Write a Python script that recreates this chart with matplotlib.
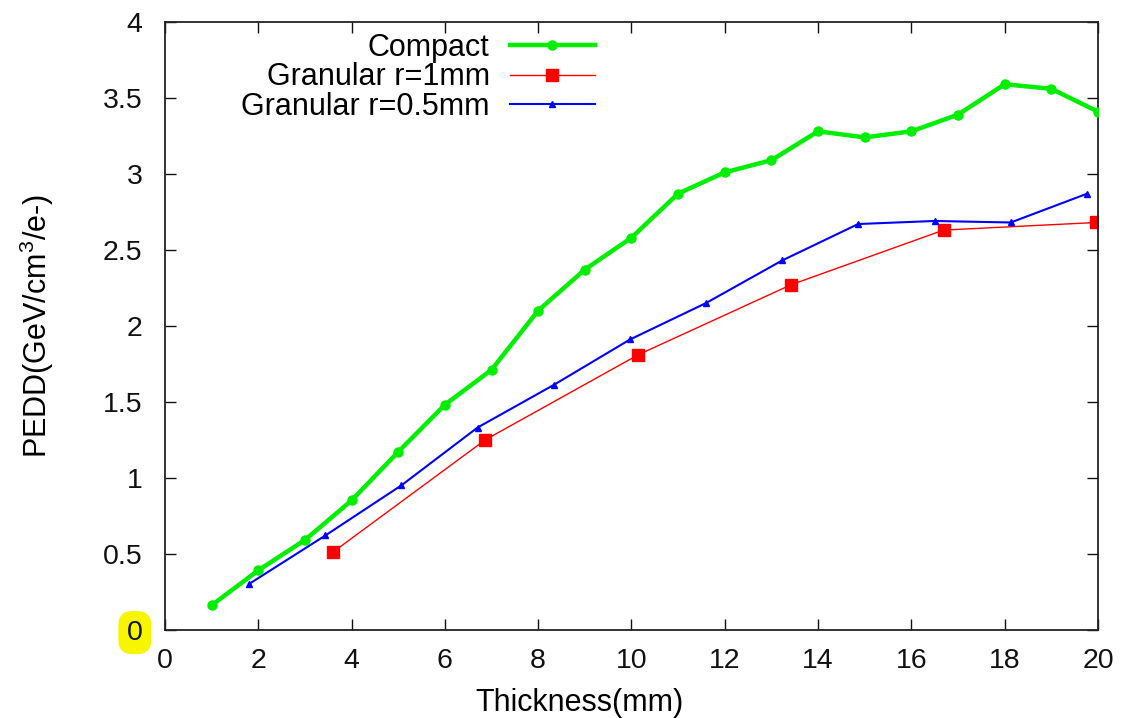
import matplotlib
matplotlib.use("Agg")
import matplotlib.pyplot as plt
from matplotlib.ticker import MultipleLocator, FormatStrFormatter

plt.rcParams['font.family'] = ['Liberation Sans', 'DejaVu Sans']
plt.rcParams['mathtext.fontset'] = 'custom'
plt.rcParams['mathtext.rm'] = 'Liberation Sans'
plt.rcParams['mathtext.it'] = 'Liberation Sans'

# Data
compact_x = [1, 2, 3, 4, 5, 6, 7, 8, 9, 10, 11, 12, 13, 14, 15, 16, 17, 18, 19, 20]
compact_y = [0.16, 0.39, 0.59, 0.85, 1.17, 1.48, 1.71, 2.10, 2.37, 2.58,
             2.87, 3.01, 3.09, 3.28, 3.24, 3.28, 3.39, 3.59, 3.56, 3.41]
gran05_x = [1.80, 3.44, 5.07, 6.70, 8.33, 9.97, 11.60, 13.23, 14.86, 16.50, 18.13, 19.77]
gran05_y = [0.30, 0.62, 0.95, 1.33, 1.61, 1.91, 2.15, 2.43, 2.67, 2.69, 2.68, 2.87]
gran1_x = [3.60, 6.87, 10.15, 13.42, 16.69, 19.96]
gran1_y = [0.51, 1.25, 1.81, 2.27, 2.63, 2.68]
labels = ["Compact", "Granular r=1mm", "Granular r=0.5mm"]
x_label = "Thickness(mm)"
y_label = "PEDD(GeV/cm$^3$/e-)"

fig = plt.figure(figsize=(11.23, 7.18), dpi=100)
ax = fig.add_axes([0.1469, 0.1231, 0.9777 - 0.1469, 0.9694 - 0.1231])

ax.plot(compact_x, compact_y, color='#00ee00', lw=3.2, marker='o', ms=6.5,
        label=labels[0], zorder=3)
ax.plot(gran1_x, gran1_y, color='#ff0000', lw=1.0, marker='s', ms=8,
        label=labels[1], zorder=2)
ax.plot(gran05_x, gran05_y, color='#0000ff', lw=1.5, marker='^', ms=5,
        label=labels[2], zorder=2)

ax.set_xlim(0, 20)
ax.set_ylim(0, 4)
ax.xaxis.set_major_locator(MultipleLocator(2))
ax.yaxis.set_major_locator(MultipleLocator(0.5))
ax.yaxis.set_major_formatter(FormatStrFormatter('%g'))
ax.tick_params(direction='in', length=8, width=1.0, top=True, right=True,
               labelsize=20.5, colors='#111111')
ax.tick_params(axis='y', pad=16)
ax.tick_params(axis='x', pad=13)
for s in ax.spines.values():
    s.set_linewidth(1.3)
    s.set_color('#222222')

ax.set_xlabel(x_label, fontsize=22)
ax.set_ylabel(y_label, fontsize=22)
ax.xaxis.set_label_coords((580 - 165) / 933, -0.096)
ax.yaxis.set_label_coords((56 - 165) / 933, 0.5)

leg = ax.legend(loc='upper right', bbox_to_anchor=(0.461, 0.982), frameon=False,
                fontsize=22, markerfirst=False, handlelength=2.8,
                handletextpad=0.65, labelspacing=-0.02, borderaxespad=0,
                borderpad=0)
for col in leg._legend_handle_box.get_children():
    col.align = 'right'

# yellow highlight behind the "0" y tick label
fig.canvas.draw()
for tick in ax.yaxis.get_major_ticks():
    if abs(tick.get_loc()) < 1e-9:
        tick.label1.set_bbox(dict(boxstyle='round,pad=0.3,rounding_size=0.5',
                                  fc='#f8f500', ec='none'))

fig.savefig('out.png', dpi=100)
